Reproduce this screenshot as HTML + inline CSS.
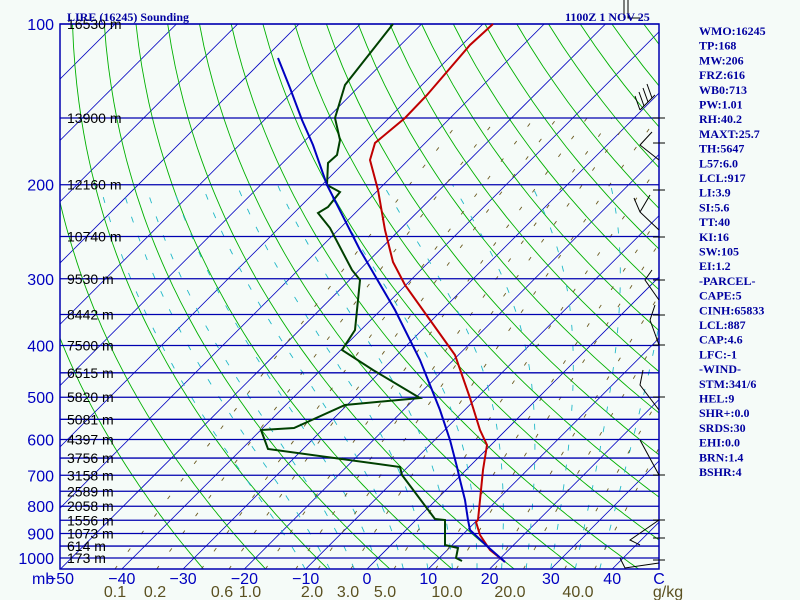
<!DOCTYPE html>
<html><head><meta charset="utf-8"><style>
html,body{margin:0;padding:0;background:#f5fbf8;}
svg{display:block}
</style></head><body>
<svg id="s" width="800" height="600" xmlns="http://www.w3.org/2000/svg">
<rect width="800" height="600" fill="#f5fbf8"/>
<defs><clipPath id="c"><rect x="60" y="24" width="599" height="545"/></clipPath></defs>
<g id="bg" clip-path="url(#c)"></g>
<g id="fg"></g>
</svg>
<script>
var NS="http://www.w3.org/2000/svg";
var bg=document.getElementById('bg'),fg=document.getElementById('fg');
function el(p,t,a,txt){var e=document.createElementNS(NS,t);for(var k in a)e.setAttribute(k,a[k]);if(txt!=null)e.textContent=txt;p.appendChild(e);return e;}
function Y(p){return 24+231.9*Math.log(p/100);}
function X(T,p){var y=Y(p);return 367+6.13*T+(569-y);}
function poly(g,pts,st,w,dash){el(g,'polyline',{points:pts.map(function(q){return q[0].toFixed(1)+','+q[1].toFixed(1)}).join(' '),fill:'none',stroke:st,'stroke-width':w,'stroke-dasharray':dash||'none'});}
var ps=[];for(var p=1050;p>=95;p-=10)ps.push(p);
// isotherms
for(var T=-160;T<=60;T+=10){poly(bg,[[X(T,1050),Y(1050)],[X(T,95),Y(95)]],'#0000c0',0.8);}
// dry adiabats
for(var th=-30;th<=250;th+=10){var pts=[];ps.forEach(function(p){var TK=(th+273.15)*Math.pow(p/1000,0.286);pts.push([X(TK-273.15,p),Y(p)]);});poly(bg,pts,'#00b000',0.9);}
// moist adiabats
function es(T){return 6.112*Math.exp(17.67*T/(T+243.5));}
function gm(T,p){var Tk=T+273.15,e=es(T),r=0.622*e/(p-e),L=2.5e6;var num=(287*Tk+L*r)/p;var den=1004+L*L*r*0.622/(287*Tk*Tk);return num/den;}
for(var t0=-10;t0<=40;t0+=4){var T=t0,pts=[];for(var p=1050;p>=200;p-=5){pts.push([X(T,p),Y(p)]);T-=gm(T,p)*5;}poly(bg,pts,'#20b8c8',0.9,'6,14');}
// mixing ratio
[0.1,0.2,0.4,0.6,1,1.5,2,3,5,8,10,15,20,30,40].forEach(function(w){var pts=[];for(var p=1050;p>=150;p-=20){var e=w/1000*p/(0.622+w/1000);var l=Math.log(e/6.112);var T=243.5*l/(17.67-l);pts.push([X(T,p),Y(p)]);}poly(bg,pts,'#6b5a20',0.9,'4,18');});
// isobars
[100,150,200,250,300,350,400,450,500,550,600,650,700,750,800,850,900,950,1000].forEach(function(p){el(fg,'line',{x1:60,x2:659,y1:Y(p),y2:Y(p),stroke:'#0000b0','stroke-width':1.3});});
el(fg,'rect',{x:60,y:24,width:599,height:545,fill:'none',stroke:'#0000b0','stroke-width':1.5});
// height labels
var H=[[100,16530],[150,13900],[200,12160],[250,10740],[300,9530],[350,8442],[400,7500],[450,6515],[500,5820],[550,5081],[600,4397],[650,3756],[700,3158],[750,2589],[800,2058],[850,1556],[900,1073],[950,614],[1000,173]];
H.forEach(function(h){el(fg,'text',{x:67,y:Y(h[0])+5,'font-family':'Liberation Sans,sans-serif','font-size':14,fill:'#000'},h[1]+' m');});
for(var p=100;p<=1000;p+=100)el(fg,'text',{x:54,y:Y(p)+6,'text-anchor':'end','font-family':'Liberation Sans,sans-serif','font-size':16,fill:'#0000c0'},p);
el(fg,'text',{x:32,y:584,'font-family':'Liberation Sans,sans-serif','font-size':16,fill:'#0000c0'},'mb');
[-50,-40,-30,-20,-10,0,10,20,30,40].forEach(function(t){el(fg,'text',{x:367+6.13*t,y:584,'text-anchor':'middle','font-family':'Liberation Sans,sans-serif','font-size':16,fill:'#0000c0'},t<0?'\u2212'+(-t):t);});
el(fg,'text',{x:659,y:584,'text-anchor':'middle','font-family':'Liberation Sans,sans-serif','font-size':16,fill:'#0000c0'},'C');
[['0.1',115],['0.2',155],['0.6',222],['1.0',250],['2.0',312],['3.0',348],['5.0',385],['10.0',447],['20.0',510],['40.0',578],['g/kg',668]].forEach(function(m){el(fg,'text',{x:m[1],y:597,'text-anchor':'middle','font-family':'Liberation Sans,sans-serif','font-size':16,fill:'#5a5020'},m[0]);});
// series
poly(fg,[[493,24],[470,45],[427,95],[405,118],[375,143],[370,160],[378,190],[385,230],[393,262],[405,285],[430,320],[455,355],[470,398],[480,430],[487,445],[483,470],[480,500],[478,520],[476,522],[480,535],[490,550],[505,562]],'#c00000',2);
poly(fg,[[393,24],[345,85],[335,118],[340,140],[337,155],[328,163],[327,185],[340,192],[328,207],[318,213],[330,228],[352,270],[360,280],[355,330],[342,350],[373,370],[420,398],[345,405],[294,428],[261,430],[268,449],[400,467],[402,475],[435,519],[445,520],[445,545],[458,548],[456,558],[462,561]],'#004000',2);
poly(fg,[[278,58],[290,88],[302,120],[313,145],[327,185],[360,250],[395,310],[420,360],[440,410],[450,440],[457,467],[460,480],[465,500],[468,520],[470,530],[488,547],[505,562]],'#0000c0',2);
// wind staff ticks and barbs (approximate)
[[95,'M655 95 L640 110 M640 110 L635 96 M644 106 L639 92 M648 102 L643 88 M652 98 L647 84'],[170,'M659 160 L640 145 L652 132'],[230,'M659 230 L640 212 L634 198 M640 212 L650 195'],[300,'M659 300 L645 280 L652 270'],[350,'M659 345 L650 320 L655 305'],[410,'M659 410 L640 385 L643 370'],[480,'M659 475 L640 440'],[520,'M659 520 L630 540 L640 545'],[565,'M659 563 L625 568 L620 558']].forEach(function(b){el(fg,'path',{d:b[1],stroke:'#000',fill:'none','stroke-width':1});});
[118,143,190,237,280,315,345,397,475,520,538,560].forEach(function(y){el(fg,'line',{x1:653,x2:665,y1:y,y2:y,stroke:'#000'});});
el(fg,'path',{d:'M624 0 L624 18 M628 0 L628 18 L640 18',stroke:'#000',fill:'none'});
// titles
el(fg,'text',{x:67,y:21,'font-family':'Liberation Serif,serif','font-weight':'bold','font-size':12,fill:'#0000a0'},'LIRE (16245) Sounding');
el(fg,'text',{x:565,y:21,'font-family':'Liberation Serif,serif','font-weight':'bold','font-size':12,fill:'#0000a0'},'1100Z  1 NOV 25');
var R=['WMO:16245','TP:168','MW:206','FRZ:616','WB0:713','PW:1.01','RH:40.2','MAXT:25.7','TH:5647','L57:6.0','LCL:917','LI:3.9','SI:5.6','TT:40','KI:16','SW:105','EI:1.2','-PARCEL-','CAPE:5','CINH:65833','LCL:887','CAP:4.6','LFC:-1','-WIND-','STM:341/6','HEL:9','SHR+:0.0','SRDS:30','EHI:0.0','BRN:1.4','BSHR:4'];
R.forEach(function(t,i){el(fg,'text',{x:699,y:35+i*14.7,'font-family':'Liberation Serif,serif','font-weight':'bold','font-size':12,fill:'#0000a0'},t);});
</script>
</body></html>
